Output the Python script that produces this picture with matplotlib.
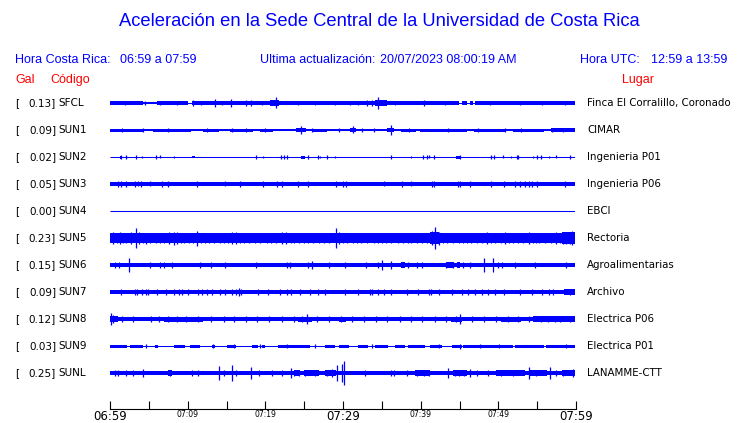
import matplotlib
matplotlib.use("Agg")
import matplotlib.pyplot as plt

# ---------------- data ----------------
codes = ["SFCL", "SUN1", "SUN2", "SUN3", "SUN4", "SUN5", "SUN6", "SUN7", "SUN8", "SUN9", "SUNL"]
gal = ["0.13", "0.09", "0.02", "0.05", "0.00", "0.23", "0.15", "0.09", "0.12", "0.03", "0.25"]
places = ["Finca El Corralillo, Coronado", "CIMAR", "Ingenieria P01", "Ingenieria P06", "EBCI",
          "Rectoria", "Agroalimentarias", "Archivo", "Electrica P06", "Electrica P01", "LANAMME-CTT"]

tick_minutes = [0, 5, 10, 15, 20, 25, 30, 35, 40, 45, 50, 55, 60]
tick_labels = ["06:59", "", "07:09", "", "07:19", "", "07:29", "", "07:39", "", "07:49", "", "07:59"]

# envelope bands: (start minute, end minute, half amplitude)
SFCL_band = [(0, 4.3, 1.9), (4.3, 6.0, 1.0), (6.0, 10.1, 1.9), (10.6, 45.0, 1.9), (20.6, 21.8, 3.0),
             (34.2, 35.7, 3.2), (45.4, 46.0, 1.6), (46.4, 46.8, 1.6), (47.1, 60, 1.9)]
SUN1_band = [(0, 60, 1.2), (0, 4.3, 1.5), (5.6, 10.5, 1.5), (12.0, 14.0, 1.5), (15.5, 18.5, 1.5),
             (19.3, 21.0, 1.5), (24.0, 25.3, 2.2), (26.0, 28.0, 1.5), (31.0, 31.8, 2.0),
             (35.8, 36.6, 2.2), (37.5, 39.5, 1.5), (40.0, 46.0, 1.5), (47.0, 51.0, 1.5),
             (52.0, 56.0, 1.5), (56.9, 60, 1.9)]
SUN2_band = [(1.3, 1.5, 1.5), (10.6, 11.0, 1.2), (24.6, 25.1, 1.5), (44.6, 45.3, 1.5)]
SUN3_band = [(0, 60, 2.0)]
SUN4_band = []
SUN5_band = [(0, 60, 4.6), (0, 1.5, 5.0), (2.5, 4.2, 5.0), (21.8, 23.0, 5.0), (28.7, 29.8, 5.2),
             (41.3, 42.5, 5.6), (58.3, 60, 5.6)]
SUN6_band = [(0, 60, 2.0), (37.6, 38.0, 2.8), (43.4, 44.4, 2.8), (44.8, 45.2, 2.6)]
SUN7_band = [(0, 60, 1.9), (14.0, 17.2, 2.3), (58.6, 60, 2.6)]
SUN8_band = [(0, 60, 2.3), (0, 1.0, 3.0), (7.0, 12.0, 2.5), (24.3, 26.0, 2.5), (29.5, 30.5, 2.5),
             (44.0, 45.4, 2.5), (50.5, 53.0, 2.5), (54.6, 60, 2.6)]
SUN9_band = [(0, 2.15, 1.5), (2.6, 4.3, 1.5), (5.8, 6.2, 1.5), (8.2, 9.7, 1.5), (10.3, 11.6, 1.5),
             (13.1, 13.5, 1.5), (15.1, 16.3, 1.5), (18.3, 19.1, 1.5), (19.6, 20.0, 1.5),
             (21.7, 25.8, 1.5), (27.7, 29.0, 1.5), (29.5, 30.8, 1.5), (32.0, 33.3, 1.5),
             (34.2, 35.9, 1.5), (36.8, 38.1, 1.5), (38.5, 40.6, 1.5), (41.3, 42.8, 1.5),
             (44.1, 45.4, 1.5), (45.6, 52.0, 1.5), (52.3, 56.0, 1.5), (56.3, 60, 1.5)]
SUNL_band = [(0, 60, 2.2), (7.5, 8.0, 2.6), (23.8, 24.5, 2.6), (25.0, 27.0, 2.7), (27.7, 29.2, 2.7),
             (39.3, 41.3, 2.7), (44.3, 46.0, 2.9), (49.8, 53.5, 2.7), (54.2, 56.4, 2.7), (58.3, 60, 2.6)]

# spikes: (minute, half amplitude)
SFCL_spikes = [(1.9, 2.4), (4.5, 2.2), (6.5, 2.4), (8.6, 2.4), (10.75, 3.0), (11.8, 2.4), (13.6, 3.7),
               (14.4, 2.4), (15.6, 4.2), (17.6, 3.0), (18.2, 3.2), (19.6, 2.4), (21.4, 5.5), (24.3, 2.4),
               (26.5, 2.4), (29.0, 2.4), (31.0, 2.4), (32.0, 2.4), (33.1, 2.6), (33.8, 3.0), (34.6, 6.2),
               (36.8, 2.4), (40.5, 3.2), (43.2, 2.4), (49.0, 2.4), (52.9, 2.4), (55.7, 2.4), (58.7, 2.4)]
SUN1_spikes = [(1.5, 2.2), (4.2, 1.8), (7.5, 1.8), (12.5, 1.8), (15.7, 1.8), (17.6, 1.8), (20.0, 1.8),
               (24.7, 3.9), (26.0, 2.0), (29.5, 2.0), (31.4, 3.5), (32.5, 2.0), (34.0, 2.0), (36.3, 5.2),
               (38.6, 2.0), (43.6, 2.0), (47.5, 2.0), (51.0, 2.4), (53.0, 2.0), (57.0, 2.4), (58.5, 2.0)]
SUN2_spikes = [(1.4, 1.7), (2.0, 1.7), (3.3, 1.7), (4.1, 1.3), (5.9, 1.7), (6.5, 1.5), (8.3, 1.3),
               (18.8, 1.7), (19.8, 1.3), (22.0, 1.7), (22.5, 1.7), (22.9, 1.7), (25.5, 1.7), (26.8, 1.7),
               (27.1, 1.3), (28.0, 1.7), (29.0, 1.3), (36.3, 1.7), (38.8, 1.3), (40.4, 1.7), (40.9, 1.7),
               (41.2, 1.5), (41.8, 1.7), (45.2, 1.7), (49.2, 1.7), (49.6, 1.7), (50.7, 1.5), (51.7, 1.3),
               (52.5, 1.7), (52.7, 1.7), (54.6, 1.3), (55.1, 1.7), (55.6, 1.7), (56.7, 1.3), (57.5, 1.5),
               (59.3, 1.7)]
SUN3_spikes = [(1.0, 2.7), (1.4, 3.0), (2.1, 2.7), (3.2, 2.7), (3.6, 2.5), (4.0, 2.7), (5.1, 2.5),
               (6.7, 2.9), (7.5, 2.7), (11.2, 2.7), (14.8, 2.5), (16.8, 2.9), (19.8, 2.7), (21.6, 2.7),
               (22.2, 2.7), (24.3, 2.9), (25.5, 2.9), (29.2, 2.9), (30.0, 2.7), (30.4, 2.7), (35.4, 2.5),
               (37.7, 2.7), (38.8, 2.5), (41.5, 2.9), (41.8, 2.9), (44.9, 2.7), (45.2, 2.7), (46.5, 2.9),
               (49.2, 2.7), (50.8, 2.7), (52.3, 2.7), (52.9, 2.7), (53.5, 2.7), (54.1, 2.9), (54.5, 2.7),
               (55.1, 2.9), (58.7, 2.7)]
SUN4_spikes = []
SUN5_spikes = [(0.4, 5.6), (0.9, 5.2), (1.3, 6.0), (1.7, 5.4), (2.1, 5.0), (2.7, 5.6), (3.3, 9.7),
               (3.8, 5.6), (4.2, 5.0), (4.6, 5.5), (5.2, 5.0), (5.9, 5.2), (6.4, 5.4), (7.0, 5.0),
               (7.6, 5.6), (8.2, 6.5), (8.7, 5.8), (9.1, 5.2), (9.6, 5.2), (10.2, 5.0), (10.7, 5.4),
               (11.2, 7.5), (11.7, 5.4), (12.3, 5.0), (12.8, 5.0), (13.4, 5.4), (14.2, 5.0), (14.7, 5.2),
               (15.2, 5.4), (15.7, 6.0), (16.2, 5.6), (16.8, 5.2), (17.3, 5.0), (17.9, 5.2), (18.7, 5.0),
               (19.3, 5.4), (20.2, 5.2), (20.8, 5.0), (21.4, 5.4), (22.2, 6.3), (22.7, 5.8), (23.3, 5.2),
               (23.8, 5.0), (24.4, 5.4), (25.0, 5.0), (25.5, 5.2), (26.2, 5.0), (27.0, 5.0), (27.6, 5.4),
               (28.2, 5.2), (29.1, 10.0), (29.6, 6.0), (30.1, 5.2), (30.6, 5.0), (31.3, 5.4), (31.9, 5.0),
               (32.4, 5.2), (33.1, 5.0), (34.0, 5.0), (34.6, 5.4), (35.1, 5.2), (35.6, 5.4), (36.3, 5.0),
               (37.2, 5.0), (37.8, 5.2), (38.4, 5.0), (38.9, 5.2), (39.6, 5.4), (40.3, 5.0), (40.9, 5.4),
               (41.5, 7.0), (41.9, 11.0), (42.4, 6.5), (43.0, 5.4), (43.5, 5.2), (44.2, 5.0), (45.0, 5.0),
               (45.6, 5.4), (46.1, 5.0), (46.6, 5.2), (47.3, 5.4), (48.0, 5.2), (48.6, 5.8), (49.1, 5.4),
               (49.7, 5.0), (50.4, 5.2), (51.0, 5.6), (51.5, 5.0), (52.0, 5.0), (52.7, 5.4), (53.3, 5.2),
               (54.0, 6.0), (54.6, 5.4), (55.0, 5.0), (55.4, 5.2), (56.1, 5.4), (56.9, 5.0), (57.5, 5.6),
               (58.0, 5.4), (58.4, 5.5), (58.9, 6.0), (59.3, 6.2), (59.6, 7.0)]
SUN6_spikes = [(0.6, 2.6), (1.1, 2.6), (2.4, 6.8), (5.1, 2.6), (6.5, 3.0), (7.0, 3.0), (8.0, 3.0),
               (11.6, 2.6), (13.0, 2.6), (14.8, 2.8), (18.8, 2.6), (22.9, 3.3), (23.2, 2.8), (25.6, 2.6),
               (26.0, 3.7), (28.3, 2.6), (30.3, 2.6), (33.0, 2.6), (34.6, 2.6), (35.1, 4.6), (36.3, 3.7),
               (38.5, 2.8), (39.6, 3.2), (40.2, 3.0), (43.4, 2.8), (44.3, 2.6), (45.6, 2.6), (46.5, 2.6),
               (48.3, 6.7), (49.4, 7.3), (50.1, 3.0), (50.6, 2.8), (52.3, 2.6), (54.8, 2.6), (58.9, 2.6)]
SUN7_spikes = [(1.4, 2.6), (3.2, 2.8), (3.5, 2.6), (4.1, 2.8), (4.6, 2.6), (4.9, 2.8), (6.0, 2.8),
               (7.2, 2.8), (8.2, 2.8), (8.9, 2.6), (9.3, 2.8), (10.0, 2.6), (11.3, 2.8), (11.9, 2.6),
               (12.5, 2.6), (13.2, 2.8), (14.2, 3.0), (14.8, 2.8), (15.7, 3.0), (16.2, 3.0), (16.6, 4.4),
               (16.9, 3.0), (19.1, 2.6), (20.4, 2.6), (21.9, 2.8), (22.9, 2.8), (23.4, 2.6), (24.5, 2.8),
               (25.8, 2.6), (26.9, 2.6), (27.7, 2.6), (30.3, 2.8), (32.0, 2.6), (33.5, 2.8), (33.8, 3.2),
               (34.6, 2.8), (35.3, 2.6), (36.3, 2.6), (38.3, 2.6), (39.8, 2.8), (41.1, 2.8), (41.4, 2.8),
               (42.4, 2.6), (44.1, 2.8), (45.4, 2.8), (46.2, 2.6), (47.1, 2.8), (48.0, 2.6), (48.8, 2.8),
               (49.7, 2.6), (50.8, 2.8), (52.9, 2.6), (54.4, 2.6), (55.7, 2.6), (56.6, 3.0), (57.2, 2.6),
               (59.4, 2.8)]
SUN8_spikes = [(0.15, 5.7), (0.4, 3.7), (1.5, 3.0), (3.0, 2.8), (5.3, 2.8), (6.3, 2.8), (7.5, 3.0),
               (8.6, 3.0), (9.8, 3.0), (11.3, 2.8), (13.0, 2.8), (14.7, 2.8), (16.0, 2.8), (17.6, 2.8),
               (19.0, 2.8), (20.5, 2.8), (22.2, 2.8), (23.8, 2.8), (24.8, 3.2), (25.4, 4.7), (26.7, 2.8),
               (28.2, 2.8), (29.8, 3.0), (31.2, 2.8), (32.8, 2.8), (34.3, 2.8), (35.8, 2.8), (37.4, 2.8),
               (38.9, 2.8), (40.3, 2.8), (41.9, 2.8), (43.4, 2.8), (44.6, 3.0), (45.2, 5.3), (46.7, 2.8),
               (48.2, 2.8), (49.8, 2.8), (51.3, 3.0), (52.6, 3.0), (54.1, 2.8), (55.6, 2.8), (56.5, 2.8),
               (57.4, 3.4), (58.1, 3.2), (59.3, 2.8)]
SUN9_spikes = [(4.6, 2.0), (13.3, 2.0), (16.0, 2.0), (19.3, 2.0), (22.8, 2.0), (26.5, 2.0), (33.8, 2.0),
               (42.4, 2.0), (45.2, 2.5), (47.8, 2.0), (50.2, 2.0), (58.9, 2.0)]
SUNL_spikes = [(0.65, 2.7), (1.0, 2.7), (2.0, 2.7), (3.0, 2.7), (4.2, 3.7), (7.7, 2.8), (10.6, 2.8),
               (11.3, 2.8), (14.0, 6.7), (14.7, 2.7), (15.8, 8.3), (16.3, 2.7), (18.2, 6.2), (19.2, 2.8),
               (20.9, 2.8), (22.2, 2.7), (23.3, 5.3), (23.8, 3.0), (24.4, 2.8), (25.2, 3.0), (26.5, 3.0),
               (28.0, 3.0), (28.6, 3.7), (29.25, 8.3), (29.9, 9.3), (30.25, 11.8), (32.9, 2.8), (36.3, 2.8),
               (36.6, 2.7), (38.3, 2.7), (39.6, 3.0), (40.5, 3.0), (41.2, 3.0), (43.6, 4.8), (44.5, 3.2),
               (45.0, 3.2), (45.7, 3.2), (46.5, 3.7), (47.3, 3.0), (48.8, 3.0), (50.5, 3.0), (52.0, 3.0),
               (54.0, 5.7), (55.0, 3.0), (56.8, 6.2), (57.5, 3.0), (58.5, 3.0), (59.8, 3.7)]

bands = [SFCL_band, SUN1_band, SUN2_band, SUN3_band, SUN4_band, SUN5_band,
         SUN6_band, SUN7_band, SUN8_band, SUN9_band, SUNL_band]
spikes = [SFCL_spikes, SUN1_spikes, SUN2_spikes, SUN3_spikes, SUN4_spikes, SUN5_spikes,
          SUN6_spikes, SUN7_spikes, SUN8_spikes, SUN9_spikes, SUNL_spikes]

# ---------------- figure ----------------
W, H = 740, 423
fig = plt.figure(figsize=(W / 100, H / 100), dpi=100)
fig.patch.set_facecolor("white")
BLUE = "#0000ff"
RED = "#ff0000"
SANS = "Liberation Sans"
DV = "DejaVu Sans"


def fx(x):
    return x / W


def fy(y):
    return 1 - y / H


def px_text(x, y, s, **kw):
    fig.text(fx(x), fy(y), s, va="center", **kw)


# header
px_text(379, 22, "Aceleración en la Sede Central de la Universidad de Costa Rica",
        ha="center", color=BLUE, fontsize=13.2, family=SANS)
px_text(15, 60, "Hora Costa Rica:", ha="left", color=BLUE, fontsize=9, family=SANS)
px_text(120, 60, "06:59 a 07:59", ha="left", color=BLUE, fontsize=9, family=SANS)
px_text(260, 60, "Ultima actualización:", ha="left", color=BLUE, fontsize=9, family=SANS)
px_text(380, 60, "20/07/2023 08:00:19 AM", ha="left", color=BLUE, fontsize=9, family=SANS)
px_text(580, 60, "Hora UTC:", ha="left", color=BLUE, fontsize=9, family=SANS)
px_text(651, 60, "12:59 a 13:59", ha="left", color=BLUE, fontsize=9, family=SANS)
px_text(15, 80, "Gal", ha="left", color=RED, fontsize=9, family=SANS)
px_text(50, 80, "Código", ha="left", color=RED, fontsize=9, family=SANS)
px_text(622, 80, "Lugar", ha="left", color=RED, fontsize=9, family=SANS)

# traces axes (y in pixel rows)
Y_TOP, Y_BOT = 88, 392
X0, X1 = 110, 575
ax = fig.add_axes([fx(X0), fy(Y_BOT), (X1 - X0) / W, (Y_BOT - Y_TOP) / H])
ax.set_xlim(0, 60)
ax.set_ylim(Y_BOT, Y_TOP)
ax.axis("off")

for i in range(len(codes)):
    c = 103 + 27 * i
    ax.hlines(c, 0, 60, color=BLUE, lw=0.75)
    for s, e, h in bands[i]:
        ax.broken_barh([(s, e - s)], (c - h, 2 * h), color=BLUE, lw=0)
    if spikes[i]:
        ax.vlines([m for m, h in spikes[i]], [c - h for m, h in spikes[i]],
                  [c + h for m, h in spikes[i]], color=BLUE, lw=0.9)
    px_text(15, c, "[", ha="left", color="black", fontsize=7.5, family=DV)
    px_text(56, c, gal[i] + "]", ha="right", color="black", fontsize=7.5, family=DV)
    px_text(58, c, codes[i], ha="left", color="black", fontsize=7.5, family=DV)
    px_text(587, c, places[i], ha="left", color="black", fontsize=7.4, family=DV)

# time axis
ax2 = fig.add_axes([fx(110), fy(409), 466 / W, 0.005])
ax2.set_xlim(0, 60)
ax2.patch.set_visible(False)
for side in ("left", "right", "top"):
    ax2.spines[side].set_visible(False)
ax2.spines["bottom"].set_linewidth(0.8)
ax2.set_yticks([])
ax2.set_xticks(tick_minutes)
ax2.set_xticklabels(tick_labels)
ax2.tick_params(axis="x", direction="in", length=6, width=0.8, pad=0.5)
for lab in ax2.get_xticklabels():
    if lab.get_text() in ("06:59", "07:29", "07:59"):
        lab.set_fontsize(8.5)
    else:
        lab.set_fontsize(5.5)
    lab.set_family(DV)

fig.savefig("out.png", dpi=100, facecolor="white")
